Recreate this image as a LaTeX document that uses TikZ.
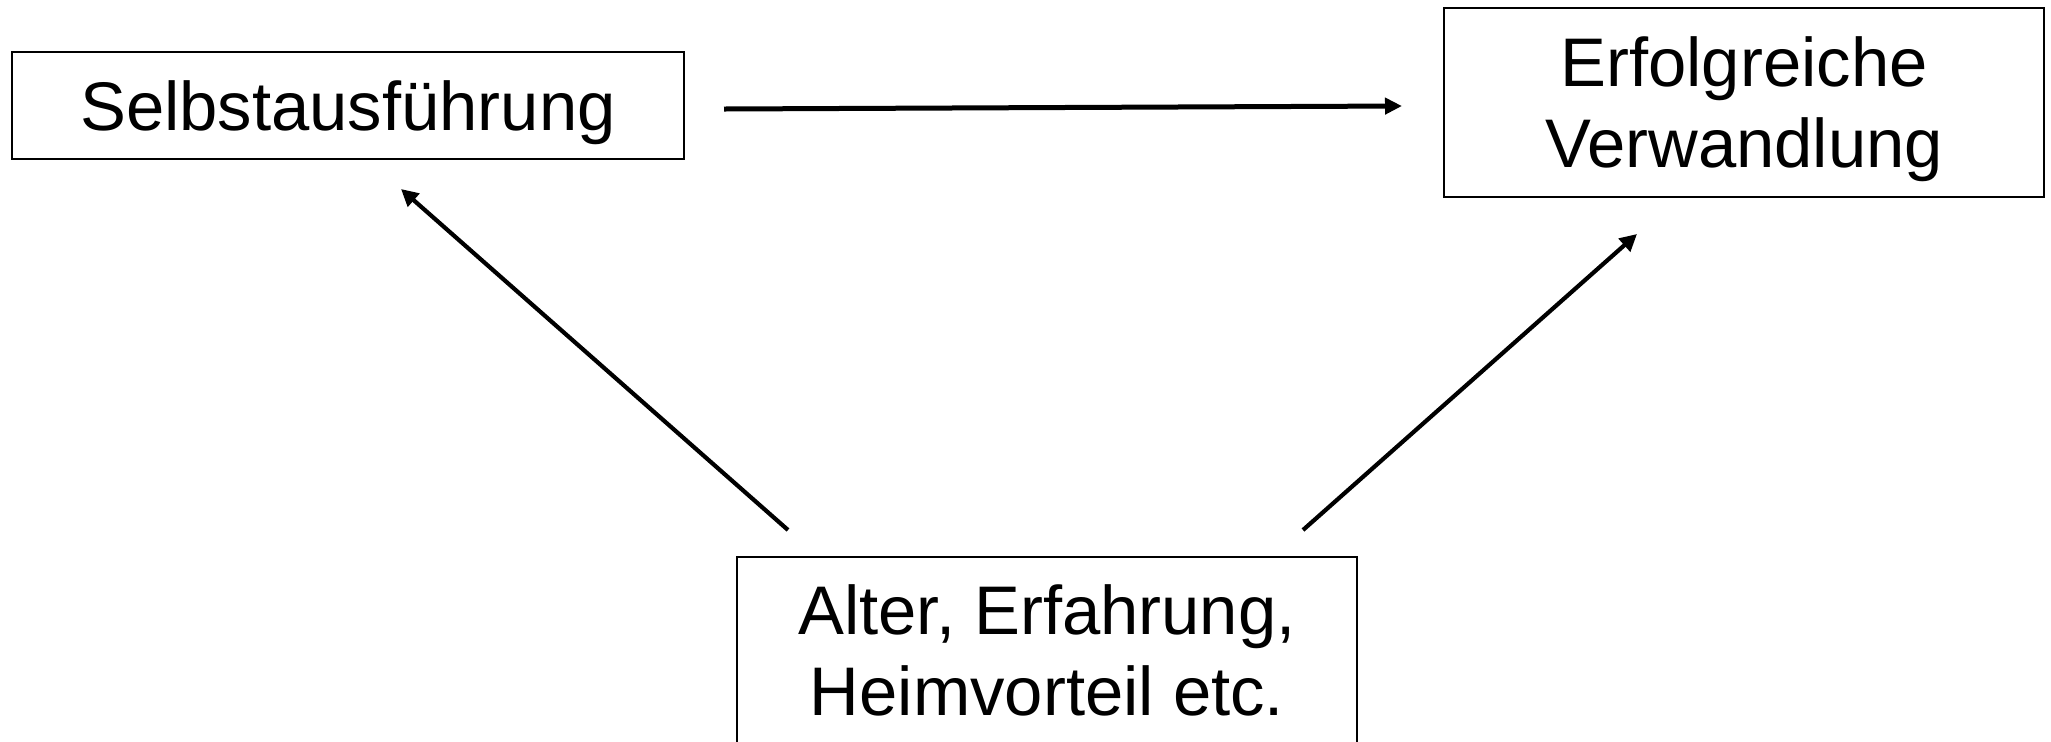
\documentclass[tikz,border=0pt]{standalone}
\usepackage{fontspec}
\setmainfont{Liberation Sans}
\usetikzlibrary{arrows.meta}
\begin{document}
\begin{tikzpicture}[x=0.5pt,y=-0.5pt,
  box/.style={draw=black,line width=1pt,inner sep=0pt,align=center,text depth=0pt,
    font=\fontsize{34.4pt}{40.5pt}\selectfont},
  conn/.style={line width=2.1pt,-{Triangle[length=8.5pt,width=8.5pt]}},
  hconn/.style={line width=2.5pt,-{Triangle[length=8.5pt,width=8pt]}}]
\useasboundingbox (0,0) rectangle (2051,741);
\node[box,minimum width=336pt,minimum height=53.5pt] (S) at (348,105.5) {Selbstausführung};
\node[box,minimum width=300pt,minimum height=94.5pt] (E) at (1744,102.5) {Erfolgreiche\\Verwandlung};
\node[box,minimum width=310pt,minimum height=93.5pt] (A) at (1047,650.5) {Alter, Erfahrung,\\Heimvorteil etc.};
\draw[hconn] ([shift={(39,3.5)}]S.east) -- ([shift={(-41,3.5)}]E.west);
\draw[conn] ([shift={(-259,-26)}]A.north) -- ([shift={(53,29)}]S.south);
\draw[conn] ([shift={(256,-26)}]A.north) -- ([shift={(-107,36)}]E.south);
\end{tikzpicture}
\end{document}
